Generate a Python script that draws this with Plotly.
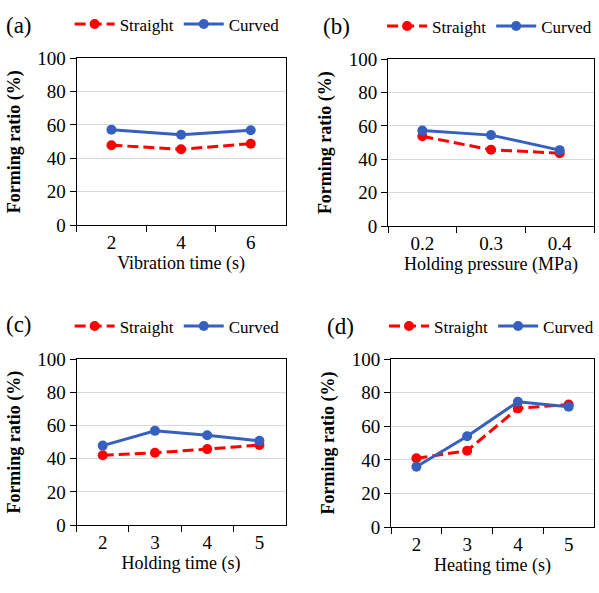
import plotly.graph_objects as go

# ---- data ----
cats_a = ["2", "4", "6"]
straight_a = [47.9, 45.4, 48.8]
curved_a = [57.1, 54.1, 56.8]

cats_b = ["0.2", "0.3", "0.4"]
straight_b = [53.8, 45.7, 43.7]
curved_b = [57.2, 54.5, 45.5]

cats_c = ["2", "3", "4", "5"]
straight_c = [42.1, 43.6, 45.8, 48.3]
curved_c = [47.9, 56.8, 54.1, 50.8]

cats_d = ["2", "3", "4", "5"]
straight_d = [40.9, 45.5, 70.7, 73.0]
curved_d = [35.9, 54.1, 74.6, 71.7]

xtitles = ["Vibration time (s)", "Holding pressure (MPa)", "Holding time (s)", "Heating time (s)"]
panel_labels = ["(a)", "(b)", "(c)", "(d)"]
ytitle = "Forming ratio (%)"
series_names = ["Straight", "Curved"]

W, H = 599, 593
FONT = "'Liberation Serif', 'Times New Roman', Times, serif"
RED = "#FF0000"
BLUE = "#3560C0"

# pixel plot boxes: (x0, x1, ytop, ybottom)
boxes = [(77, 287, 50, 223), (390, 597, 51, 224), (77, 287, 362, 534), (393, 597, 362, 536)]
legend_pos = [(70, 15), (384, 17), (70, 328), (386, 328)]
label_pos = [(19, 16), (338, 17), (19, 326), (342, 328)]

data = [(cats_a, straight_a, curved_a), (cats_b, straight_b, curved_b),
        (cats_c, straight_c, curved_c), (cats_d, straight_d, curved_d)]

fig = go.Figure()
layout = dict(width=W, height=H, margin=dict(l=0, r=0, t=0, b=0),
              paper_bgcolor="white", plot_bgcolor="white",
              font=dict(family=FONT, color="black", size=18))
annotations = []

for i, (cats, s, c) in enumerate(data):
    n = i + 1
    xa = "x" if n == 1 else f"x{n}"
    ya = "y" if n == 1 else f"y{n}"
    lg = "legend" if n == 1 else f"legend{n}"
    fig.add_trace(go.Scatter(x=cats, y=s, name=series_names[0], mode="lines+markers",
                             line=dict(color=RED, width=3, dash="11px,5px"),
                             marker=dict(color=RED, size=10, symbol="circle"),
                             xaxis=xa, yaxis=ya, legend=lg))
    fig.add_trace(go.Scatter(x=cats, y=c, name=series_names[1], mode="lines+markers",
                             line=dict(color=BLUE, width=3),
                             marker=dict(color=BLUE, size=10, symbol="circle"),
                             xaxis=xa, yaxis=ya, legend=lg))
    x0, x1, yt, yb = boxes[i]
    xkey = "xaxis" if n == 1 else f"xaxis{n}"
    ykey = "yaxis" if n == 1 else f"yaxis{n}"
    layout[xkey] = dict(domain=[x0 / W, x1 / W], anchor=ya, type="category",
                        range=[-0.5, len(cats) - 0.5], tickson="boundaries",
                        showline=True, linecolor="black", linewidth=1, mirror=True,
                        ticks="outside", ticklen=6, tickcolor="black", showgrid=False,
                        tickfont=dict(family=FONT, size=19),
                        title=dict(text=xtitles[i], font=dict(family=FONT, size=18), standoff=4))
    layout[ykey] = dict(domain=[1 - yb / H, 1 - yt / H], anchor=xa, range=[0, 100],
                        dtick=20, showline=True, linecolor="black", linewidth=1, mirror=True,
                        ticks="outside", ticklen=6, tickcolor="black",
                        showgrid=True, gridcolor="#d9d9d9", gridwidth=1, zeroline=False,
                        tickfont=dict(family=FONT, size=19),
                        title=dict(text="<b>" + ytitle + "</b>", font=dict(family=FONT, size=18),
                                   standoff=12))
    lx, ly = legend_pos[i]
    layout[lg] = dict(orientation="h", x=lx / W, y=1 - ly / H, xanchor="left", yanchor="middle",
                      font=dict(family=FONT, size=17), bgcolor="rgba(0,0,0,0)", itemwidth=40,
                      tracegroupgap=0, traceorder="normal")
    px, py = label_pos[i]
    annotations.append(dict(text=panel_labels[i], x=px / W, y=1 - py / H, xref="paper", yref="paper",
                            showarrow=False, font=dict(family=FONT, size=23),
                            xanchor="center", yanchor="middle"))

layout["annotations"] = annotations
fig.update_layout(**layout)
fig.write_html("out.html")
